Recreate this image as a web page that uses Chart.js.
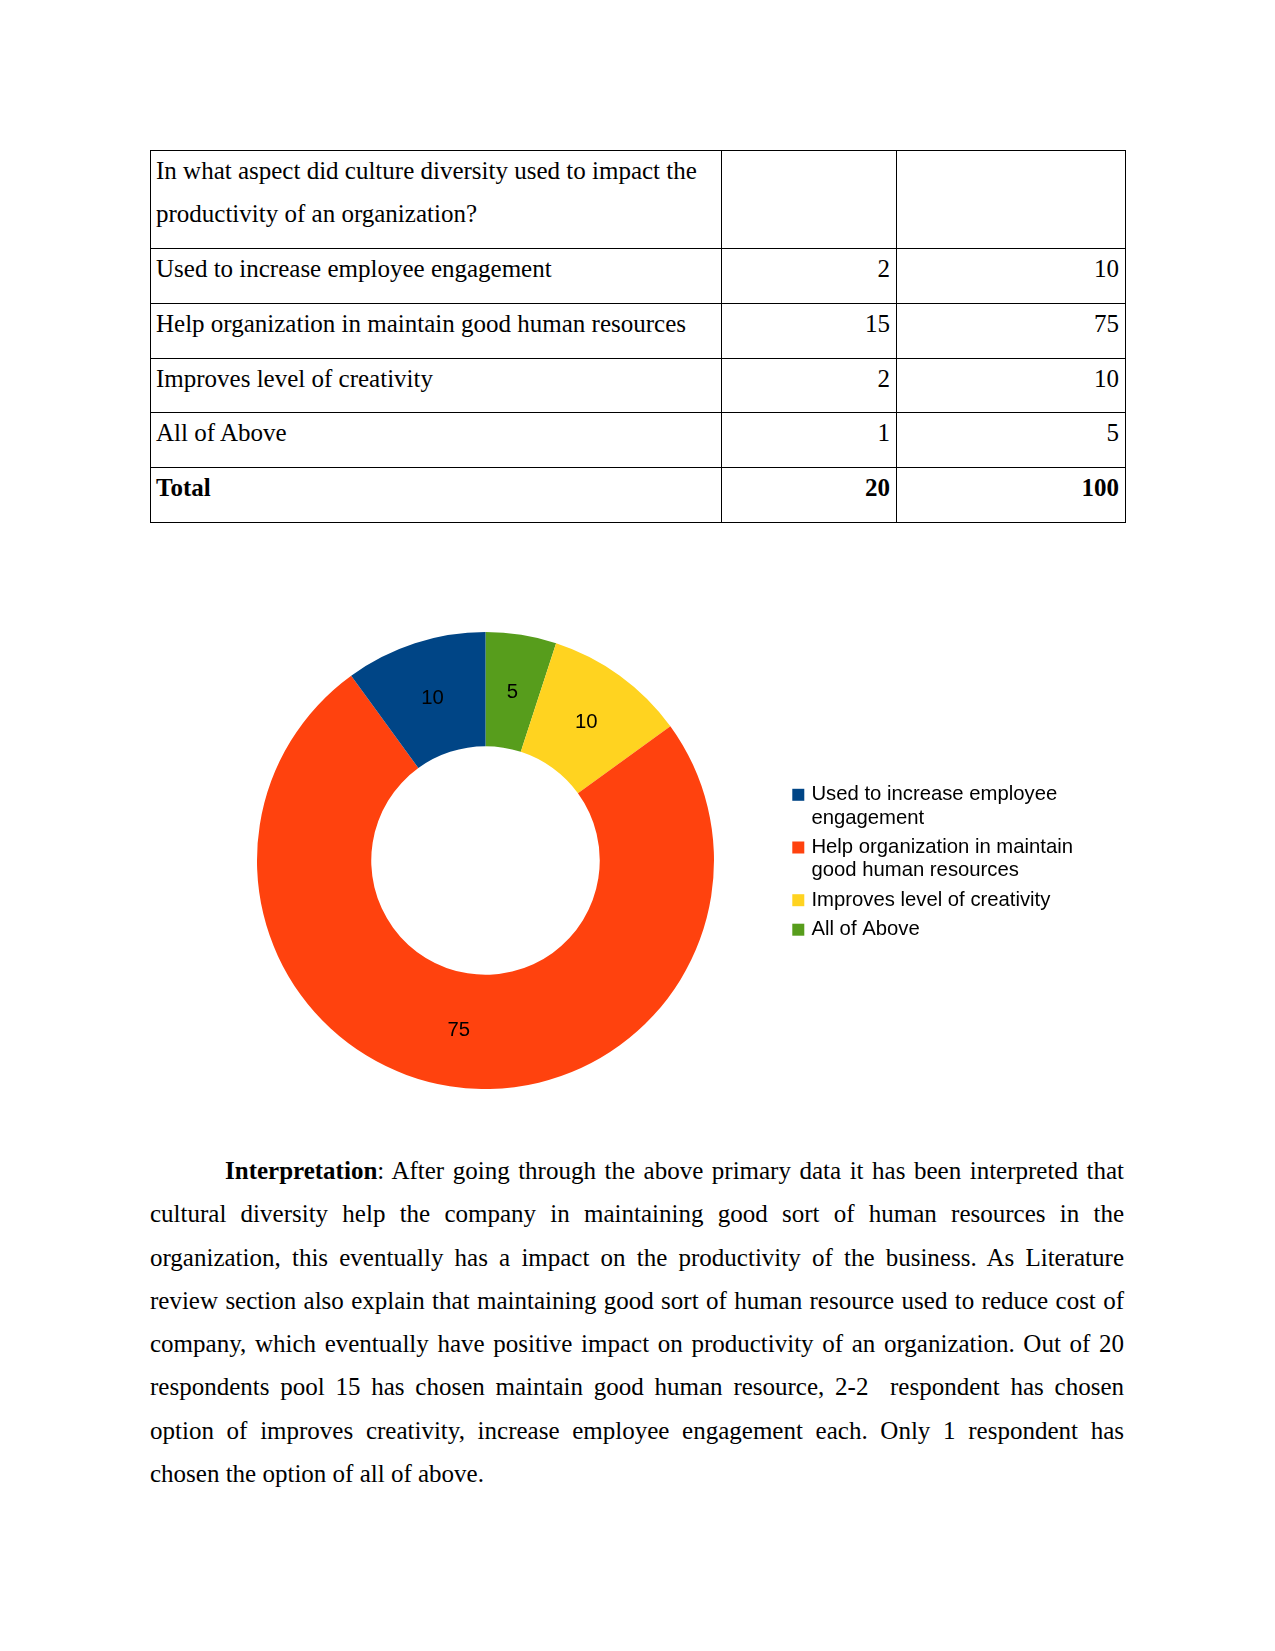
<!DOCTYPE html>
<html>
<head>
<meta charset="utf-8">
<script src="https://cdn.jsdelivr.net/npm/chart.js@4/dist/chart.umd.min.js"></script>
<style>
  html, body { margin: 0; padding: 0; background: #fff; }
  body { width: 1275px; height: 1651px; position: relative; font-family: "Liberation Serif", serif; color: #000; }
  #surveyTable { position: absolute; left: 150px; top: 150px; border-collapse: collapse; font-size: 25px; line-height: 43px; }
  #surveyTable td { border: 1.3px solid #000; padding: 0 6px 0 5px; vertical-align: top; }
  #surveyTable td div { position: relative; top: -2px; }
  #surveyTable td.num { text-align: right; }
  #surveyTable tr.total td { font-weight: bold; }
  #chartBox { position: absolute; left: 182px; top: 632px; width: 901px; height: 457px; }
  #interp { position: absolute; left: 150px; top: 1149px; width: 974px; font-size: 25px; line-height: 43.3px; text-align: justify; text-indent: 75px; margin: 0; }
</style>
</head>
<body>

<table id="surveyTable"></table>

<div id="chartBox"><canvas id="diversityChart"></canvas></div>

<p id="interp"><b>Interpretation</b>: After going through the above primary data it has been interpreted that cultural diversity help the company in maintaining good sort of human resources in the organization, this eventually has a impact on the productivity of the business. As Literature review section also explain that maintaining good sort of human resource used to reduce cost of company, which eventually have positive impact on productivity of an organization. Out of 20 respondents pool 15 has chosen maintain good human resource, 2-2 &nbsp;respondent has chosen option of improves creativity, increase employee engagement each. Only 1 respondent has chosen the option of all of above.</p>

<script>
const question = 'In what aspect did culture diversity used to impact the productivity of an organization?';
const categories = [
    'Used to increase employee engagement',
    'Help organization in maintain good human resources',
    'Improves level of creativity',
    'All of Above'
];
const respondents = [2, 15, 2, 1];
const percentages = [10, 75, 10, 5];
const totals = [20, 100];
const colors = ['#004586', '#ff420e', '#ffd320', '#579d1c'];

const labelFont = { family: '"Liberation Sans", Arial, sans-serif', size: 20.3, lineHeight: 1.143 };

// tableau
function buildTable() {
    const table = document.getElementById('surveyTable');
    const widths = [570, 174, 228];
    const heights = [98, 55, 55, 54, 55, 55];
    const cell = (txt, cls) => '<td' + (cls ? ' class="' + cls + '"' : '') + '><div>' + txt + '</div></td>';
    let html = '<tr style="height:' + heights[0] + 'px"><td style="width:' + (widths[0] - 11) + 'px"><div>' + question + '</div></td>'
        + '<td style="width:' + (widths[1] - 11) + 'px"></td><td style="width:' + (widths[2] - 11) + 'px"></td></tr>';
    categories.forEach((c, i) => {
        html += '<tr style="height:' + heights[i + 1] + 'px">' + cell(c) + cell(respondents[i], 'num') + cell(percentages[i], 'num') + '</tr>';
    });
    html += '<tr class="total" style="height:' + heights[5] + 'px">' + cell('Total') + cell(totals[0], 'num') + cell(totals[1], 'num') + '</tr>';
    table.innerHTML = html;
}

function wrapLabel(text, maxWidth) {
    const ctx = document.createElement('canvas').getContext('2d');
    ctx.font = labelFont.size + 'px ' + labelFont.family;
    const words = text.split(' ');
    const lines = [];
    let line = '';
    words.forEach(w => {
        const test = line ? line + ' ' + w : w;
        if (line && ctx.measureText(test).width > maxWidth) {
            lines.push(line);
            line = w;
        } else {
            line = test;
        }
    });
    lines.push(line);
    return lines;
}

// valeurs au centre des parts
const sliceLabels = {
    id: 'sliceLabels',
    afterDatasetsDraw(chart) {
        const ctx = chart.ctx;
        const meta = chart.getDatasetMeta(0);
        ctx.save();
        ctx.font = labelFont.size + 'px ' + labelFont.family;
        ctx.fillStyle = '#000';
        ctx.textAlign = 'center';
        ctx.textBaseline = 'middle';
        meta.data.forEach((arc, i) => {
            const p = arc.getCenterPoint();
            ctx.fillText(String(chart.data.datasets[0].data[i]), p.x, p.y + 1);
        });
        ctx.restore();
    }
};

function initChart() {
    // LibreOffice tourne dans l'autre sens : on inverse pour le dessin, la légende est remise dans l'ordre
    const order = categories.map((c, i) => i).reverse();
    new Chart(document.getElementById('diversityChart'), {
        type: 'doughnut',
        data: {
            labels: order.map(i => categories[i]),
            datasets: [{
                data: order.map(i => percentages[i]),
                backgroundColor: order.map(i => colors[i]),
                borderWidth: 0,
                hoverOffset: 0
            }]
        },
        options: {
            responsive: true,
            maintainAspectRatio: false,
            animation: false,
            cutout: '50%',
            layout: { padding: 0 },
            plugins: {
                tooltip: { enabled: false },
                legend: {
                    position: 'right',
                    reverse: true,
                    title: { display: true, text: '', padding: 0, font: { size: 6.4, lineHeight: 1 } },
                    labels: {
                        boxWidth: 6,
                        boxHeight: 6,
                        padding: 6.3,
                        color: '#000',
                        font: labelFont,
                        generateLabels(chart) {
                            const ds = chart.data.datasets[0];
                            return chart.data.labels.map((l, i) => ({
                                text: wrapLabel(l, 280),
                                fillStyle: ds.backgroundColor[i],
                                strokeStyle: ds.backgroundColor[i],
                                lineWidth: 6,
                                fontColor: '#000',
                                hidden: false,
                                index: i
                            }));
                        }
                    }
                }
            }
        },
        plugins: [sliceLabels]
    });
}

document.addEventListener('DOMContentLoaded', () => {
    buildTable();
    initChart();
});
</script>
</body>
</html>
